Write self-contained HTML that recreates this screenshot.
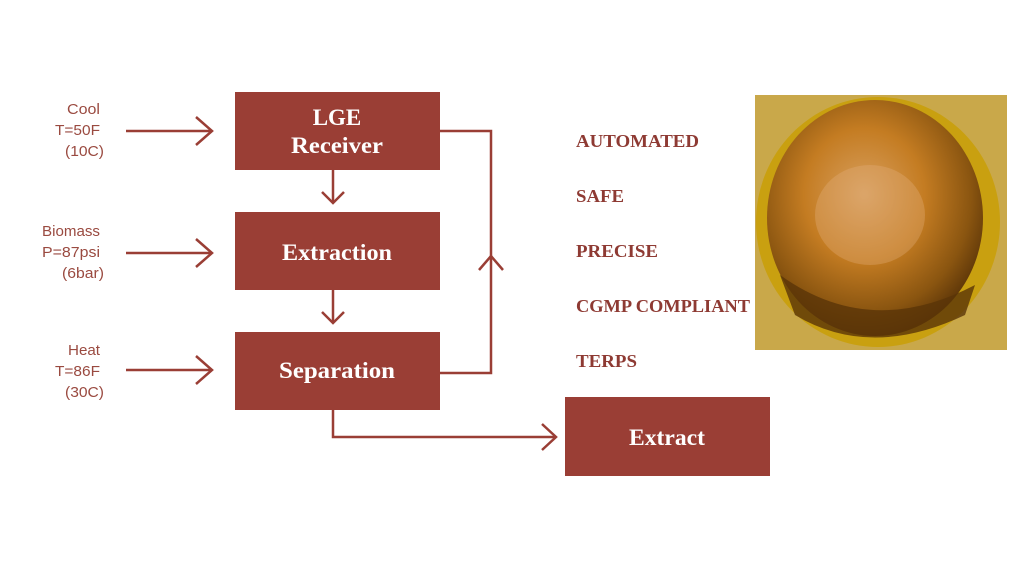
<!DOCTYPE html>
<html><head><meta charset="utf-8"><style>
html,body{margin:0;padding:0;background:#fff;}
body{width:1024px;height:576px;overflow:hidden;position:relative;}
</style></head><body>
<svg width="1024" height="576" viewBox="0 0 1024 576" xmlns="http://www.w3.org/2000/svg">
<defs>
<radialGradient id="g1" cx="0.45" cy="0.4" r="0.62">
<stop offset="0" stop-color="#d8a060"/>
<stop offset="0.45" stop-color="#c47c22"/>
<stop offset="0.8" stop-color="#8a5510"/>
<stop offset="1" stop-color="#5a3408"/>
</radialGradient>
</defs>
<g fill="#9a3e35">
<rect x="235" y="92" width="205" height="78"/>
<rect x="235" y="212" width="205" height="78"/>
<rect x="235" y="332" width="205" height="78"/>
<rect x="565" y="397" width="205" height="79"/>
</g>
<g font-family="Liberation Serif, serif" font-weight="bold" fill="#fff" font-size="23" text-anchor="middle">
<text x="337" y="125">LGE</text>
<text x="337" y="153" textLength="92" lengthAdjust="spacingAndGlyphs">Receiver</text>
<text x="337" y="260" textLength="110" lengthAdjust="spacingAndGlyphs">Extraction</text>
<text x="337" y="378" textLength="116" lengthAdjust="spacingAndGlyphs">Separation</text>
<text x="667" y="445" textLength="76" lengthAdjust="spacingAndGlyphs">Extract</text>
</g>
<g stroke="#9a3e35" stroke-width="2.5" fill="none">
<line x1="126" y1="131" x2="212" y2="131"/><polyline points="196,117 212,131 196,145"/>
<line x1="126" y1="253" x2="212" y2="253"/><polyline points="196,239 212,253 196,267"/>
<line x1="126" y1="370" x2="212" y2="370"/><polyline points="196,356 212,370 196,384"/>
<line x1="333" y1="170" x2="333" y2="203"/><polyline points="322,192 333,203 344,192"/>
<line x1="333" y1="290" x2="333" y2="323"/><polyline points="322,312 333,323 344,312"/>
<polyline points="440,131 491,131 491,373 440,373"/>
<polyline points="479,270 491,256 503,270"/>
<polyline points="333,410 333,437 556,437"/>
<polyline points="542,424 556,437 542,450"/>
</g>
<g font-family="Liberation Sans, sans-serif" fill="#9a4a40" font-size="15" text-anchor="end">
<text x="100" y="114" textLength="33" lengthAdjust="spacingAndGlyphs">Cool</text><text x="100" y="135" textLength="45" lengthAdjust="spacingAndGlyphs">T=50F</text><text x="104" y="156" textLength="39" lengthAdjust="spacingAndGlyphs">(10C)</text>
<text x="100" y="236" textLength="58" lengthAdjust="spacingAndGlyphs">Biomass</text><text x="100" y="257" textLength="58" lengthAdjust="spacingAndGlyphs">P=87psi</text><text x="104" y="278" textLength="42" lengthAdjust="spacingAndGlyphs">(6bar)</text>
<text x="100" y="355" textLength="32" lengthAdjust="spacingAndGlyphs">Heat</text><text x="100" y="376" textLength="45" lengthAdjust="spacingAndGlyphs">T=86F</text><text x="104" y="397" textLength="39" lengthAdjust="spacingAndGlyphs">(30C)</text>
</g>
<g font-family="Liberation Serif, serif" font-weight="bold" fill="#8e3a33" font-size="18">
<text x="576" y="147" textLength="123" lengthAdjust="spacingAndGlyphs">AUTOMATED</text>
<text x="576" y="202" textLength="48" lengthAdjust="spacingAndGlyphs">SAFE</text>
<text x="576" y="257" textLength="82" lengthAdjust="spacingAndGlyphs">PRECISE</text>
<text x="576" y="312" textLength="174" lengthAdjust="spacingAndGlyphs">CGMP COMPLIANT</text>
<text x="576" y="367" textLength="61" lengthAdjust="spacingAndGlyphs">TERPS</text>
</g>
<rect x="755" y="95" width="252" height="255" fill="#c9a84a"/>
<ellipse cx="878" cy="222" rx="122" ry="125" fill="#c9a010"/>
<ellipse cx="875" cy="218" rx="108" ry="118" fill="url(#g1)"/>
<path d="M780,275 Q870,340 975,285 L965,315 Q870,360 795,315 Z" fill="#5a3408" opacity="0.8"/>
<ellipse cx="870" cy="215" rx="55" ry="50" fill="#e2b07a" opacity="0.35"/>
</svg>
</body></html>
